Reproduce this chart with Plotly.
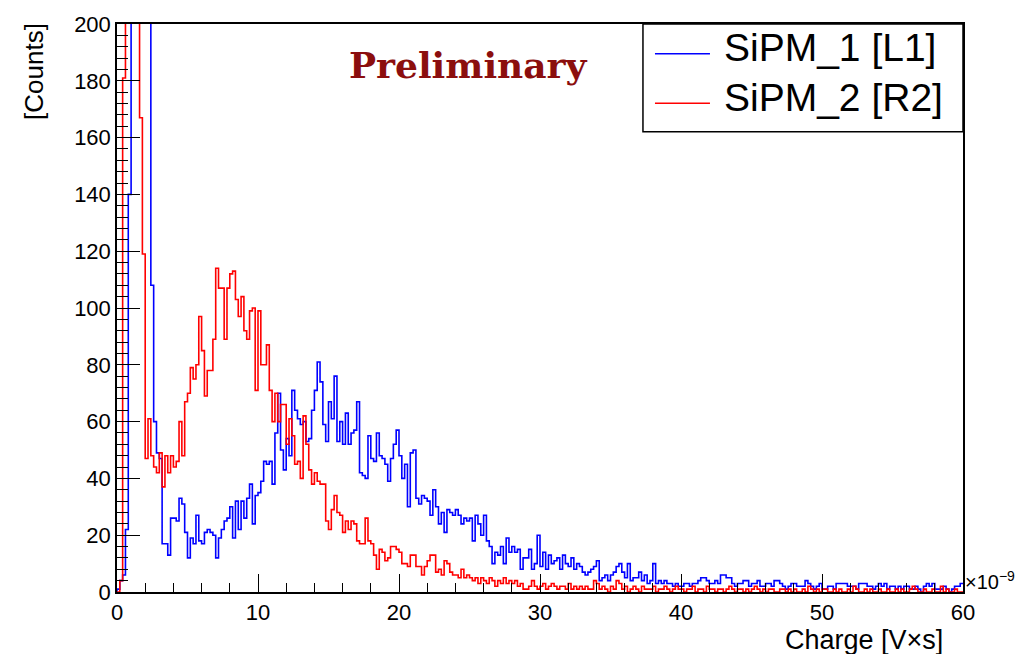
import numpy as np
import plotly.graph_objects as go

# Histogram binning: 300 bins of 0.2e-9 V*s between 0 and 60e-9 V*s
x_min, x_max, n_bins = 0.0, 60.0, 300

# Bin contents, SiPM_1 [L1] (blue)
sipm1_counts = [
    1, 4, 6, 22, 140, 330, 640, 760, 690, 520,
    380, 250, 108, 60, 49, 47, 17, 17, 13, 26,
    26, 25, 33, 31, 21, 12, 19, 17, 27, 18,
    17, 21, 22, 21, 20, 12, 19, 22, 25, 26,
    30, 19, 32, 22, 32, 26, 33, 38, 24, 34,
    35, 39, 46, 45, 46, 38, 56, 70, 50, 43,
    54, 48, 71, 64, 61, 59, 60, 53, 54, 64,
    71, 81, 74, 59, 53, 67, 61, 76, 53, 60,
    52, 63, 52, 56, 57, 67, 42, 41, 40, 55,
    47, 46, 56, 48, 47, 45, 39, 47, 52, 57,
    48, 40, 45, 30, 49, 50, 33, 31, 34, 33,
    32, 27, 36, 30, 24, 28, 21, 29, 28, 27,
    29, 27, 24, 26, 25, 26, 18, 27, 24, 20,
    27, 18, 16, 10, 14, 13, 16, 10, 19, 14,
    16, 14, 15, 8, 12, 12, 15, 8, 10, 20,
    9, 14, 8, 13, 10, 11, 12, 8, 13, 10,
    9, 12, 8, 10, 9, 7, 6, 7, 8, 9,
    11, 4, 5, 6, 4, 6, 7, 9, 10, 7,
    5, 10, 4, 5, 5, 7, 4, 6, 3, 4,
    10, 3, 4, 3, 4, 3, 3, 2, 3, 2,
    2, 3, 3, 2, 3, 3, 4, 5, 5, 4,
    3, 3, 4, 3, 6, 6, 5, 5, 3, 2,
    3, 3, 4, 4, 2, 3, 3, 4, 2, 2,
    3, 3, 2, 4, 4, 3, 2, 1, 2, 3,
    3, 2, 2, 2, 4, 3, 2, 1, 2, 3,
    1, 1, 2, 2, 1, 3, 3, 3, 3, 2,
    2, 2, 1, 3, 3, 3, 2, 2, 1, 2,
    3, 2, 3, 1, 2, 2, 1, 2, 1, 2,
    2, 1, 1, 2, 1, 0, 2, 3, 2, 3,
    1, 1, 1, 2, 1, 0, 1, 2, 2, 3,
]

# Bin contents, SiPM_2 [R2] (red)
sipm2_counts = [
    0, 4, 181, 420, 780, 900, 760, 480, 167, 119,
    47, 61, 48, 44, 42, 49, 37, 48, 42, 48,
    44, 46, 60, 48, 67, 70, 79, 75, 80, 97,
    85, 69, 78, 78, 89, 114, 107, 107, 89, 107,
    112, 113, 103, 97, 104, 92, 89, 99, 100, 71,
    99, 80, 80, 87, 71, 60, 70, 60, 66, 66,
    52, 61, 55, 45, 46, 40, 62, 52, 43, 38,
    42, 39, 38, 38, 25, 22, 29, 34, 28, 27,
    21, 25, 22, 25, 24, 18, 17, 17, 26, 18,
    17, 13, 8, 15, 14, 11, 12, 16, 16, 15,
    14, 10, 10, 9, 13, 13, 9, 9, 6, 9,
    11, 13, 13, 7, 8, 6, 11, 10, 7, 6,
    6, 5, 8, 5, 6, 5, 4, 5, 3, 5,
    4, 3, 5, 4, 2, 4, 3, 5, 3, 4,
    3, 4, 2, 3, 1, 1, 2, 4, 2, 1,
    2, 3, 1, 2, 3, 2, 1, 2, 2, 1,
    3, 1, 2, 1, 2, 1, 2, 1, 1, 4,
    3, 1, 2, 1, 0, 2, 1, 4, 3, 1,
    2, 0, 1, 2, 1, 0, 2, 1, 1, 1,
    2, 0, 1, 1, 2, 1, 0, 1, 2, 1,
    1, 0, 1, 1, 2, 0, 1, 1, 0, 2,
    1, 1, 0, 1, 1, 0, 1, 2, 1, 0,
    1, 1, 0, 1, 0, 1, 2, 1, 0, 1,
    0, 1, 1, 0, 0, 1, 1, 0, 1, 0,
    1, 0, 0, 1, 0, 2, 1, 0, 1, 0,
    1, 1, 0, 0, 1, 0, 1, 0, 0, 1,
    0, 2, 1, 0, 0, 1, 0, 1, 0, 0,
    1, 0, 0, 1, 0, 0, 1, 0, 1, 0,
    0, 1, 2, 1, 0, 0, 1, 0, 0, 1,
    0, 0, 2, 0, 1, 0, 0, 1, 0, 0,
]

series_names = ["SiPM_1 [L1]", "SiPM_2 [R2]"]
series_colors = ["#0000ff", "#ff0000"]

y_ticks = list(range(0, 201, 20))
x_ticks = list(range(0, 61, 10))

edges = np.linspace(x_min, x_max, n_bins + 1)


def outline(counts):
    """Step outline of a histogram, starting on the baseline at the low edge."""
    xs = np.concatenate([[edges[0]], edges])
    ys = np.concatenate([[0], counts, [counts[-1]]])
    return xs, ys


fig = go.Figure()
for name, counts, color in zip(series_names, [sipm1_counts, sipm2_counts], series_colors):
    xs, ys = outline(counts)
    fig.add_trace(go.Scatter(
        x=xs, y=ys, mode="lines", name=name,
        line=dict(color=color, width=1.6, shape="hv"),
        hoverinfo="skip", showlegend=False,
    ))

font_main = "Liberation Sans, Arial, sans-serif"

# Boxed legend in the upper right corner of the frame (paper coordinates)
legend_box = dict(x0=0.6217, x1=1.0, y0=0.8101, y1=1.0)
legend_rows_y = [0.9477, 0.8606]
legend_line_x = (0.6359, 0.7009)
legend_text_x = 0.7151
legend_text_lift = 0.0105

shapes = [dict(type="rect", xref="paper", yref="paper", **legend_box,
               line=dict(color="black", width=1.5), fillcolor="white", layer="above")]
annotations = []
for name, color, ry in zip(series_names, series_colors, legend_rows_y):
    shapes.append(dict(type="line", xref="paper", yref="paper",
                       x0=legend_line_x[0], x1=legend_line_x[1], y0=ry, y1=ry,
                       line=dict(color=color, width=1.6), layer="above"))
    annotations.append(dict(text=name, xref="paper", yref="paper",
                            x=legend_text_x, y=ry + legend_text_lift,
                            xanchor="left", yanchor="middle",
                            showarrow=False, font=dict(family=font_main, size=39)))

annotations += [
    dict(text="[Counts]", textangle=-90, xref="paper", yref="paper",
         x=-0.099, y=1.005, xanchor="center", yanchor="top",
         showarrow=False, font=dict(family=font_main, size=26)),
    dict(text="Charge [V\u00d7s]", xref="paper", yref="paper",
         x=0.979, y=-0.084, xanchor="right", yanchor="middle",
         showarrow=False, font=dict(family=font_main, size=27)),
    dict(text="\u00d710<sup>\u22129</sup>", xref="paper", yref="paper",
         x=1.0, y=0.02, xanchor="left", yanchor="middle",
         showarrow=False, font=dict(family=font_main, size=20)),
    dict(text="<b>Preliminary</b>", xref="paper", yref="paper",
         x=0.4149, y=0.927, xanchor="center", yanchor="middle",
         showarrow=False, font=dict(family="DejaVu Serif", size=36, color="#8b0e0e")),
]

fig.update_layout(
    width=1018, height=654, autosize=False,
    margin=dict(l=117, r=55, t=18, b=62),
    paper_bgcolor="white", plot_bgcolor="white",
    font=dict(family=font_main, color="black"),
    showlegend=False,
    xaxis=dict(
        range=[x_min, x_max], tickvals=x_ticks,
        ticks="inside", ticklen=18, tickwidth=1.2, tickcolor="black",
        minor=dict(dtick=2, ticks="inside", ticklen=9, tickwidth=1.2, tickcolor="black"),
        showline=True, linecolor="black", linewidth=1.5, mirror=True,
        showgrid=False, zeroline=False,
        tickfont=dict(family=font_main, size=22),
    ),
    yaxis=dict(
        range=[0, 200], tickvals=y_ticks,
        ticks="inside", ticklen=23, tickwidth=1.2, tickcolor="black",
        minor=dict(dtick=4, ticks="inside", ticklen=11, tickwidth=1.2, tickcolor="black"),
        showline=True, linecolor="black", linewidth=1.5, mirror=True,
        showgrid=False, zeroline=False,
        tickfont=dict(family=font_main, size=22),
    ),
    shapes=shapes,
    annotations=annotations,
)

fig.write_html("out.html")
